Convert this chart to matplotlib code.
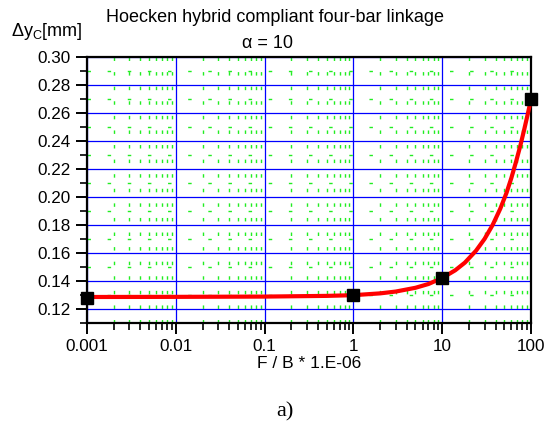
import numpy as np
import matplotlib
matplotlib.use("Agg")
import matplotlib.pyplot as plt
from matplotlib.ticker import FixedLocator, FuncFormatter

plt.rcParams["font.family"] = ["Liberation Sans", "DejaVu Sans"]
plt.rcParams["mathtext.default"] = "regular"

# measured points (black squares)
force = [0.001, 1, 10, 100]
dy_c = [0.128, 0.1297, 0.1423, 0.270]

# fitted curve
curve_x = [0.001, 0.01, 0.1, 0.5, 1, 2, 3, 5, 7, 10, 14, 18, 24, 30, 37,
           45, 53, 60, 68, 76, 84, 92, 100]
curve_y = [0.1284, 0.1285, 0.1287, 0.1292, 0.1297, 0.1310, 0.1323, 0.1350,
           0.1377, 0.1420, 0.1475, 0.1530, 0.1615, 0.1700, 0.1800, 0.1915,
           0.2030, 0.2135, 0.2255, 0.2370, 0.2485, 0.2595, 0.2700]

fig = plt.figure(figsize=(5.48, 4.25), dpi=100)
ax = fig.add_axes([0.1588, 0.2407, 0.8102, 0.6245])

ax.set_xscale("log")
ax.set_xlim(0.001, 100)
ax.set_ylim(0.11, 0.30)

ax.yaxis.set_major_locator(FixedLocator(np.arange(0.12, 0.301, 0.02)))
ax.yaxis.set_minor_locator(FixedLocator(np.arange(0.11, 0.30, 0.02)))
ax.yaxis.set_major_formatter(FuncFormatter(lambda v, p: f"{v:.2f}"))
ax.xaxis.set_major_formatter(FuncFormatter(lambda v, p: f"{v:g}"))

# grids: blue major, green sparse-dashed minor
ax.grid(True, which="major", color="#0000ff", lw=0.9)
ax.grid(True, which="minor", axis="x", color="#22ee22", lw=1.0,
        linestyle=(0, (2.5, 8)))
ax.grid(True, which="minor", axis="y", color="#22ee22", lw=1.0,
        linestyle=(0, (2.5, 12)))
ax.set_axisbelow(True)

ax.plot(curve_x, curve_y, color="#ff0000", lw=3, zorder=3, clip_on=False)
ax.plot(force, dy_c, "s", color="black", ms=8, zorder=4, clip_on=False)

for s in ax.spines.values():
    s.set_linewidth(1.6)
ax.tick_params(which="major", direction="out", length=8, width=1.4,
               labelsize=12.3, pad=4)
ax.tick_params(which="minor", direction="out", length=5, width=1.2)

ax.set_xlabel("F / B * 1.E-06", fontsize=12.5, labelpad=1)

fig.text(0.502, 0.958, "Hoecken hybrid compliant four-bar linkage",
         ha="center", va="center", fontsize=13)
fig.text(0.489, 0.897, "α = 10", ha="center", va="center", fontsize=13)
fig.text(0.02, 0.925, r"Δy$_{C}$[mm]", ha="left", va="center", fontsize=13)
fig.text(0.52, 0.03, "a)", ha="center", va="center", fontsize=16,
         family="Liberation Serif")

fig.savefig("out.png", dpi=100)
